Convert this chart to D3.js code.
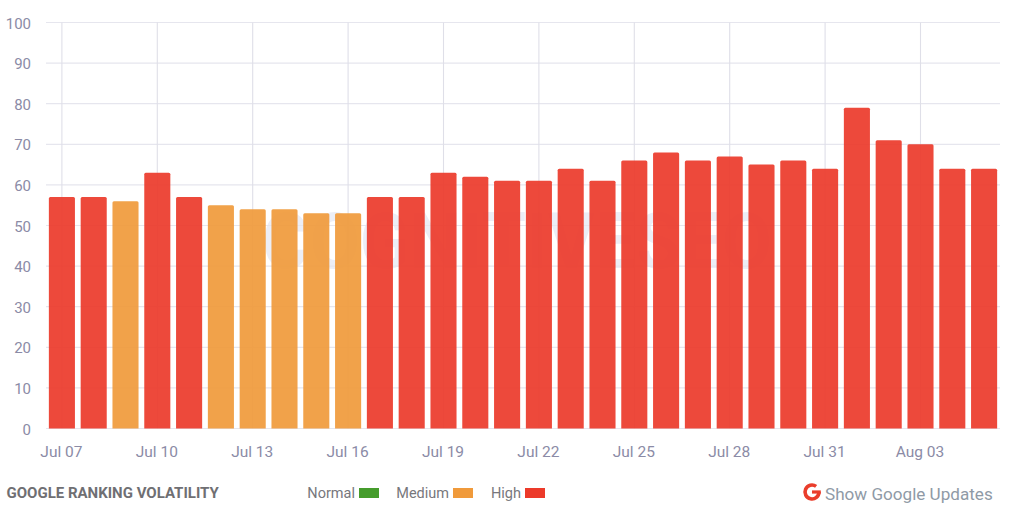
<!DOCTYPE html>
<html>
<head>
<meta charset="utf-8">
<script src="https://cdn.jsdelivr.net/npm/d3@7"></script>
<style>
  html, body { margin: 0; padding: 0; background: #fff; }
  text { font-family: Roboto, sans-serif; }
</style>
</head>
<body>
<svg id="chart" width="1024" height="517"></svg>
<script>
var days = ["Jul 07","Jul 08","Jul 09","Jul 10","Jul 11","Jul 12","Jul 13","Jul 14","Jul 15","Jul 16",
    "Jul 17","Jul 18","Jul 19","Jul 20","Jul 21","Jul 22","Jul 23","Jul 24","Jul 25","Jul 26",
    "Jul 27","Jul 28","Jul 29","Jul 30","Jul 31","Aug 01","Aug 02","Aug 03","Aug 04","Aug 05"];
var volatility = [57,57,56,63,57,55,54,54,53,53,57,57,63,62,61,61,64,61,66,68,66,67,65,66,64,79,71,70,64,64];
var levels = ["High","High","Medium","High","High","Medium","Medium","Medium","Medium","Medium",
    "High","High","High","High","High","High","High","High","High","High",
    "High","High","High","High","High","High","High","High","High","High"];
var x_ticks = ["Jul 07","Jul 10","Jul 13","Jul 16","Jul 19","Jul 22","Jul 25","Jul 28","Jul 31","Aug 03"];
var y_ticks = [0,10,20,30,40,50,60,70,80,90,100];
var legend_names = ["Normal","Medium","High"];
var legend_colors = ["#459c2c","#f09a3b","#ec3a2a"];

var margin = {top: 22.5, right: 24, bottom: 88.5, left: 46},
    width = 1024 - margin.left - margin.right,
    height = 517 - margin.top - margin.bottom;

var svg = d3.select("#chart");

// faint watermark behind the plot
svg.append("text")
    .attr("x", 262)
    .attr("y", 268)
    .attr("textLength", 510)
    .attr("lengthAdjust", "spacingAndGlyphs")
    .style("font-size", "77px")
    .style("font-weight", 700)
    .style("fill", "#eceef6")
    .text("COGNITIVESEO");

var g = svg.append("g")
    .attr("transform", "translate(" + margin.left + "," + margin.top + ")");

var x = d3.scaleBand().domain(days).range([0, width]).paddingInner(0.18).paddingOuter(0.09);
var y = d3.scaleLinear().domain([0, 100]).range([height, 0]);

// grid
g.append("g").selectAll("line")
    .data(y_ticks)
    .enter()
    .append("line")
        .attr("x1", 0)
        .attr("x2", width)
        .attr("y1", function(d) { return y(d); })
        .attr("y2", function(d) { return y(d); })
        .style("stroke", "#e6e6ee")
        .style("stroke-width", 1.2);

g.append("g").selectAll("line")
    .data(x_ticks)
    .enter()
    .append("line")
        .attr("x1", function(d) { return x(d) + x.bandwidth() / 2; })
        .attr("x2", function(d) { return x(d) + x.bandwidth() / 2; })
        .attr("y1", 0)
        .attr("y2", height)
        .style("stroke", "#dfdfe8")
        .style("stroke-width", 1.1);

// bars
g.selectAll(".bar")
    .data(days)
    .enter()
    .append("path")
        .attr("class", "bar")
        .attr("d", function(d, i) {
            var left = x(d), top = y(volatility[i]), w = x.bandwidth(), r = 1.5;
            return "M" + left + "," + height + "V" + (top + r) + "Q" + left + "," + top + " " + (left + r) + "," + top +
                "H" + (left + w - r) + "Q" + (left + w) + "," + top + " " + (left + w) + "," + (top + r) + "V" + height + "Z";
        })
        .attr("fill", function(d, i) { return legend_colors[legend_names.indexOf(levels[i])]; })
        .attr("fill-opacity", 0.92);

// axis labels
g.append("g").selectAll("text")
    .data(y_ticks)
    .enter()
    .append("text")
        .attr("x", -15)
        .attr("y", function(d) { return y(d) + 6; })
        .attr("text-anchor", "end")
        .style("font-size", "15px")
        .style("fill", "#8b8ba6")
        .text(function(d) { return d; });

g.append("g").selectAll("text")
    .data(x_ticks)
    .enter()
    .append("text")
        .attr("x", function(d) { return x(d) + x.bandwidth() / 2 - 0.5; })
        .attr("y", height + 28)
        .attr("text-anchor", "middle")
        .style("font-size", "15.5px")
        .style("fill", "#8b8ba6")
        .text(function(d) { return d; });

// footer
svg.append("text")
    .attr("x", 6.5)
    .attr("y", 498)
    .style("font-size", "15px")
    .style("font-weight", 700)
    .style("fill", "#6f6f73")
    .text("GOOGLE RANKING VOLATILITY");

var legend_text_end = [355, 449, 521];
var legend_box_x = [359, 453, 525];
legend_names.forEach(function(name, i) {
    svg.append("text")
        .attr("x", legend_text_end[i])
        .attr("y", 498)
        .attr("text-anchor", "end")
        .style("font-size", "14.5px")
        .style("fill", "#77777c")
        .text(name);
    svg.append("rect")
        .attr("x", legend_box_x[i])
        .attr("y", 488)
        .attr("width", 20)
        .attr("height", 10)
        .attr("fill", legend_colors[i]);
});

// google "G" icon
var icon = svg.append("g").attr("transform", "translate(812,492)");
icon.append("path")
    .attr("d", d3.arc()
        .innerRadius(5.2)
        .outerRadius(8.8)
        .startAngle(Math.PI / 2)
        .endAngle(Math.PI * 2 + Math.PI / 5)())
    .attr("fill", "#ea3e2c");
icon.append("rect")
    .attr("x", 0)
    .attr("y", -1.6)
    .attr("width", 8.8)
    .attr("height", 3.2)
    .attr("fill", "#ea3e2c");

svg.append("text")
    .attr("x", 825)
    .attr("y", 500)
    .style("font-size", "17.1px")
    .style("fill", "#8f9aa6")
    .text("Show Google Updates");
</script>
</body>
</html>
